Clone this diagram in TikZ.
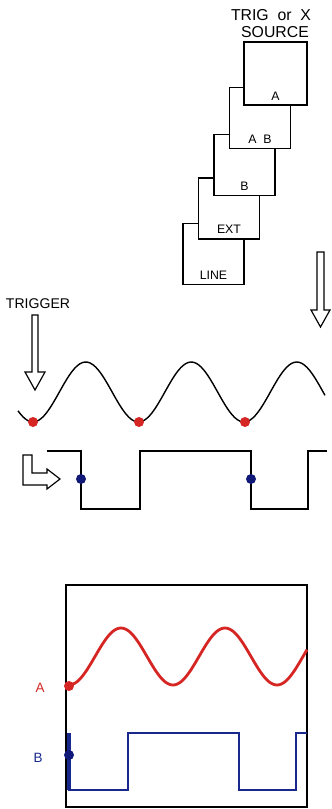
\documentclass[tikz,border=0pt]{standalone}
\usepackage{fontspec}
\setmainfont{Liberation Sans}
\usepackage{tikz}
\usetikzlibrary{positioning}
\definecolor{traceRed}{RGB}{214,38,36}
\definecolor{traceBlue}{RGB}{24,40,140}
\definecolor{dotBlue}{RGB}{16,24,120}
\def\boxSize{1.83cm}
\def\dotR{5}
\begin{document}
\begin{tikzpicture}[
    x=0.03cm, y=-0.03cm,
    srcbox/.style={rectangle, draw, fill=white, line width=1.1pt, minimum size=\boxSize, inner sep=0pt},
    boxtxt/.style={font=\fontsize{10.5}{11}\selectfont, inner sep=0pt},
    bigtxt/.style={font=\fontsize{12}{13}\selectfont, inner sep=0pt},
    titletxt/.style={font=\fontsize{13.5}{14}\selectfont, inner sep=0pt},
    hollow/.style={draw, fill=white, line width=1pt, line join=miter},
    wave/.style={line width=1.2pt}
]
\useasboundingbox (0,0) rectangle (331,809);

% source selector, bottom box first
\node[titletxt] (title1) at (271,15) {TRIG\ \ or\ \ X};
\node[titletxt] (title2) at (275,32) {SOURCE};
\foreach \name/\cx/\cy/\txt in {line/213.5/254/LINE, ext/229/208.5/EXT, b/244.5/165/B, ab/260/118/{A\ \ B}}{
  \node[srcbox] (\name) at (\cx,\cy) {};
  \node[boxtxt] (\name txt) at ([yshift=0.3cm]\name.south) {\txt};
}
\node[srcbox, line width=1.8pt, minimum size=1.89cm] (a) at (275.5,73.5) {};
\node[boxtxt] (atxt) at ([yshift=0.3cm]a.south) {A};

% hollow arrows
\draw[hollow] (317,252) -- (324,252) -- (324,310) -- (330,310) -- (320.5,327) -- (311,310) -- (317,310) -- cycle;
\node[bigtxt] (trigger) at (38,304) {TRIGGER};
\draw[hollow] (32,315) -- (38,315) -- (38,372) -- (45,372) -- (35,390) -- (25,372) -- (32,372) -- cycle;
\draw[hollow] (23,455) -- (32,455) -- (32,473) -- (47,473) -- (47,469) -- (60,479) -- (47,489) -- (47,485) -- (23,485) -- cycle;

% input signal and trigger points
\draw[wave] plot[domain=18:325, samples=120, smooth] (\x, {392+30*cos(3.4123*(\x-33))});
\foreach \px in {33,139,245}
  \fill[traceRed] (\px,422) circle (\dotR);
\draw[wave, line join=miter] (47,451) -- (81,451) -- (81,509) -- (140,509) -- (140,451) -- (251,451)
  -- (251,509) -- (308,509) -- (308,451) -- (327,451);
\foreach \px in {81,251}
  \fill[dotBlue] (\px,479) circle (\dotR);

% screen
\draw[line width=1.6pt] (66,585) rectangle (307,807);
\node[font=\fontsize{11.5}{12}\selectfont, text=traceRed, inner sep=0pt] (alabel) at (40,688) {A};
\node[font=\fontsize{11.5}{12}\selectfont, text=traceBlue, inner sep=0pt] (blabel) at (38,758) {B};
\draw[traceRed, line width=2.4pt] plot[domain=69:307, samples=120, smooth] (\x, {656.5+28.5*cos(3.4615*(\x-69))});
\fill[traceRed] (69,686) circle (\dotR);
\draw[traceBlue, line width=2pt, line join=miter] (69,733) -- (69,790) -- (128,790) -- (128,733) -- (239,733)
  -- (239,790) -- (296,790) -- (296,733) -- (307,733);
\draw[traceBlue, line width=3pt] (69,733) -- (69,790);
\fill[dotBlue] (69,755) circle (\dotR);
\end{tikzpicture}
\end{document}
